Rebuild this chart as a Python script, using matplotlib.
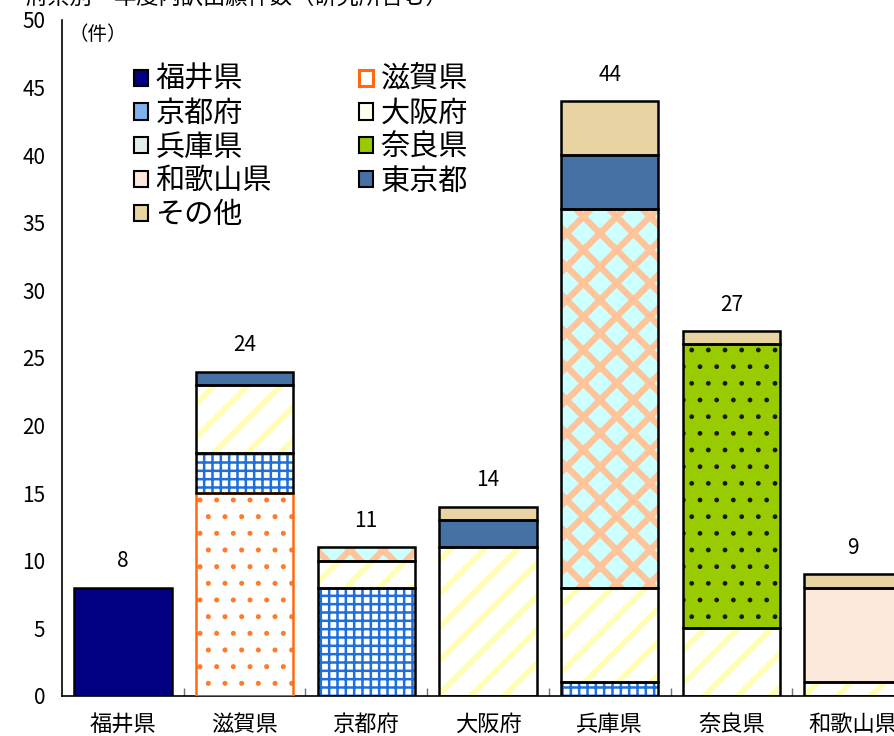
import matplotlib

matplotlib.use("Agg")

import matplotlib.pyplot as plt
import numpy as np
from matplotlib.patches import Patch

plt.rcParams["font.family"] = ["Noto Sans CJK JP", "DejaVu Sans"]
plt.rcParams["hatch.linewidth"] = 2.0

# bar categories (x axis)
categories = ["福井県", "滋賀県", "京都府", "大阪府", "兵庫県", "奈良県", "和歌山県"]

# stacked series, bottom to top
fukui = [8, 0, 0, 0, 0, 0, 0]
shiga = [0, 15, 0, 0, 0, 0, 0]
kyoto = [0, 3, 8, 0, 1, 0, 0]
osaka = [0, 5, 2, 11, 7, 5, 1]
hyogo = [0, 0, 1, 0, 28, 0, 0]
nara = [0, 0, 0, 0, 0, 21, 0]
wakayama = [0, 0, 0, 0, 0, 0, 7]
tokyo = [0, 1, 0, 2, 4, 0, 0]
other = [0, 0, 0, 1, 4, 1, 1]

series_names = ["福井県", "滋賀県", "京都府", "大阪府", "兵庫県", "奈良県", "和歌山県", "東京都", "その他"]
series_values = [fukui, shiga, kyoto, osaka, hyogo, nara, wakayama, tokyo, other]

# (face, hatch, hatch colour, edge colour, hatch linewidth)
STYLES = {
    "福井県":   ("#000080", None, None, "black", 0),
    "滋賀県":   ("white", ".", "#FF7A2A", "#FF6A10", 1.2),
    "京都府":   ("white", "++", "#1E6FD9", "black", 1.8),
    "大阪府":   ("white", "/", "#FFFFB4", "black", 4.0),
    "兵庫県":   ("#CCFFFF", "x", "#FFC499", "black", 4.6),
    "奈良県":   ("#99CC00", ".", "#1A1A00", "black", 1.0),
    "和歌山県": ("#FDE9DC", None, None, "black", 0),
    "東京都":   ("#4671A5", None, None, "black", 0),
    "その他":   ("#E8D4A2", None, None, "black", 0),
}

fig = plt.figure(figsize=(8.94, 7.36), dpi=100)
ax = fig.add_axes([62 / 894, 40 / 736, 1 - 62 / 894, 676 / 736])

x = np.arange(len(categories))
width = 0.8
bottom = np.zeros(len(categories))

for name, vals in zip(series_names, series_values):
    vals = np.asarray(vals, dtype=float)
    face, hatch, hcol, edge, hlw = STYLES[name]
    m = vals > 0
    if hatch:
        bars = ax.bar(x[m], vals[m], width, bottom=bottom[m], color=face,
                      hatch=hatch, edgecolor=hcol, linewidth=0, zorder=2)
        for b in bars:
            if hasattr(b, "set_hatch_linewidth"):
                b.set_hatch_linewidth(hlw)
    else:
        ax.bar(x[m], vals[m], width, bottom=bottom[m], color=face,
               linewidth=0, zorder=2)
    ax.bar(x[m], vals[m], width, bottom=bottom[m], fill=False,
           edgecolor=edge, linewidth=1.8, zorder=3)
    bottom += vals

totals = bottom
for xi, t in zip(x, totals):
    ax.annotate(f"{int(t)}", (xi, t), xytext=(0, 19), textcoords="offset points",
                ha="center", va="center", fontsize=15)

ax.set_xlim(-0.5, -0.5 + (894 - 62) / 121.7)
ax.set_ylim(0, 50)
ax.set_yticks(np.arange(0, 51, 5))
ax.tick_params(axis="y", length=0, pad=12, labelsize=15)
ax.set_xticks(x)
ax.set_xticklabels(categories, fontsize=16)
ax.tick_params(axis="x", which="major", length=0, pad=12)
ax.set_xticks(np.arange(0.5, len(categories) - 0.5, 1), minor=True)
ax.tick_params(axis="x", which="minor", direction="in", length=6, color="0.45", width=1)

for s in ("top", "right"):
    ax.spines[s].set_visible(False)
ax.spines["left"].set_color("black")
ax.spines["bottom"].set_color("black")
ax.spines["left"].set_linewidth(1.2)
ax.spines["bottom"].set_linewidth(1.2)

ax.text(68 / 894, 1 - 34 / 736, "（件）", transform=fig.transFigure,
        ha="left", va="center", fontsize=14)

# title, cut off at the top edge of the picture
fig.text(25 / 894, 1 + 3 / 736, "府県別・年度内訳出願件数（研究所含む）",
         ha="left", va="center", fontsize=16)

# legend: column-first order
order = ["福井県", "京都府", "兵庫県", "和歌山県", "その他", "滋賀県", "大阪府", "奈良県", "東京都"]
handles = []
for name in order:
    face, hatch, hcol, edge, hlw = STYLES[name]
    if name == "滋賀県":
        handles.append(Patch(facecolor="white", edgecolor="#FF6A10", linewidth=2.2, label=name))
    elif name == "京都府":
        handles.append(Patch(facecolor="#7FB2EC", edgecolor="black", linewidth=1.5, label=name))
    elif name == "大阪府":
        handles.append(Patch(facecolor="#FFFFEE", edgecolor="black", linewidth=1.5, label=name))
    elif name == "兵庫県":
        handles.append(Patch(facecolor="#E4EEE8", edgecolor="black", linewidth=1.5, label=name))
    else:
        handles.append(Patch(facecolor=face, edgecolor="black", linewidth=1.5, label=name))

fig.legend(handles=handles, loc="upper left", bbox_to_anchor=(134 / 894, 1 - 65 / 736),
           ncol=2, frameon=False, fontsize=21, handlelength=0.48, handleheight=0.48,
           handletextpad=0.25, labelspacing=0.13, columnspacing=3.0,
           borderpad=0, borderaxespad=0)

fig.savefig("out.png", dpi=100)
